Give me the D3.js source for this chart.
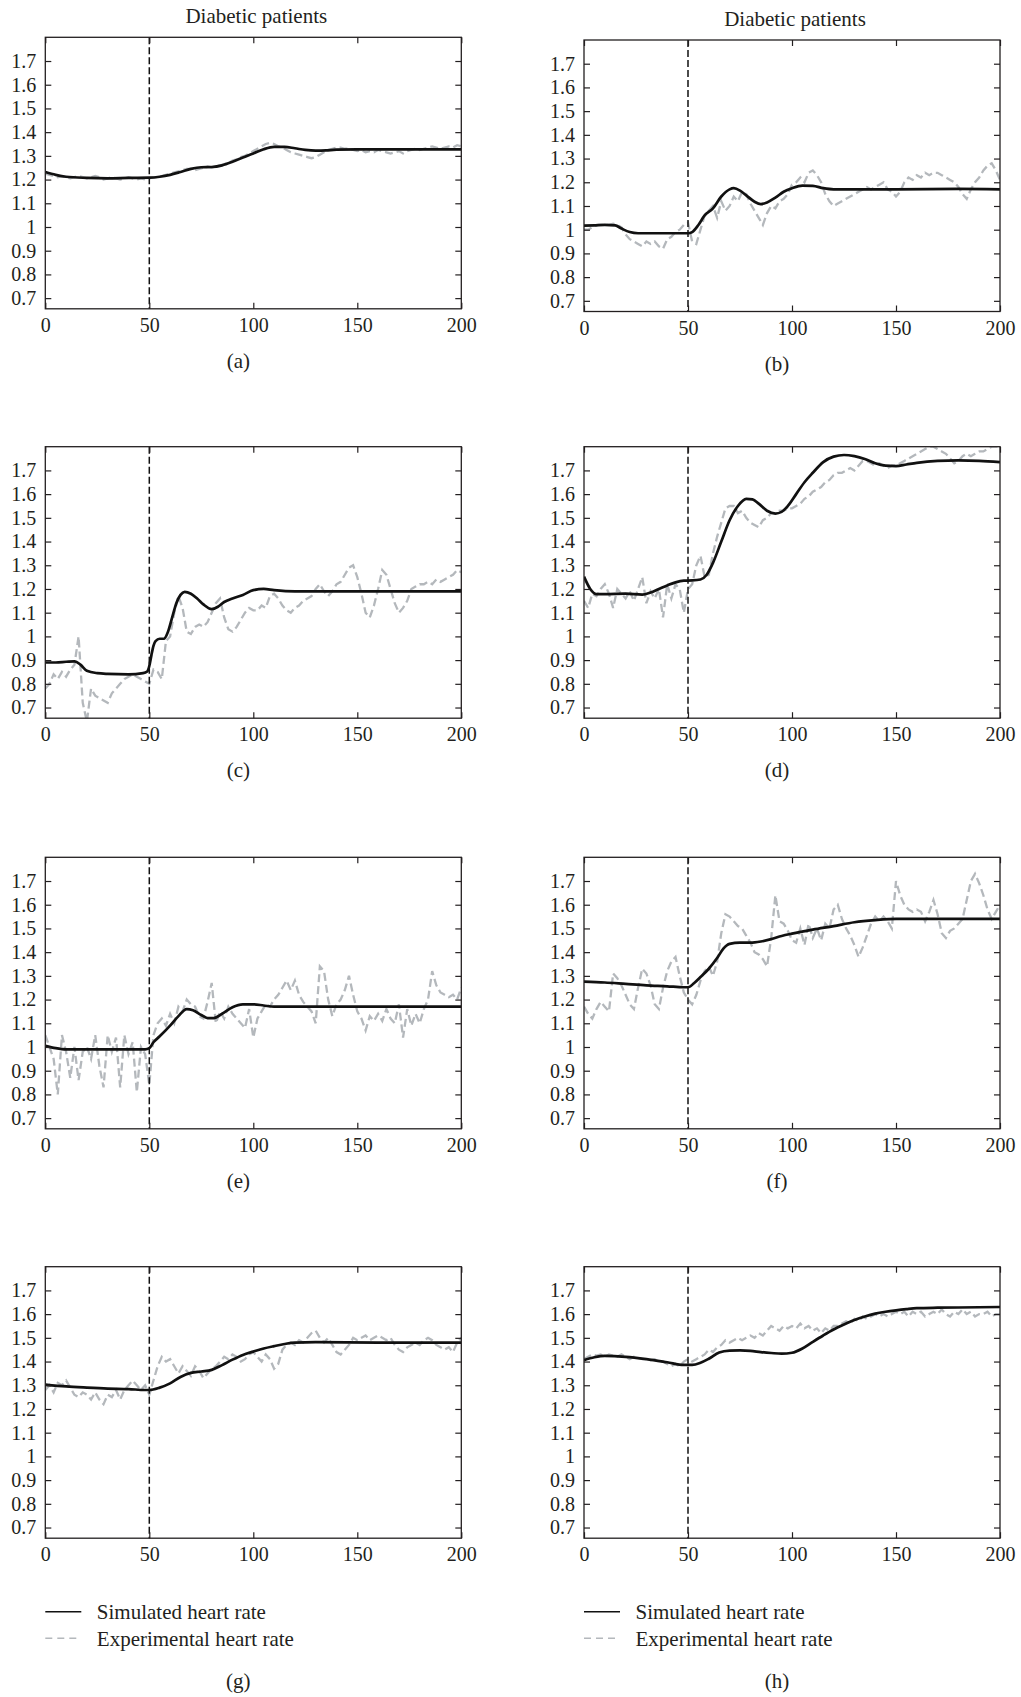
<!DOCTYPE html>
<html>
<head>
<meta charset="utf-8">
<script src="https://cdn.jsdelivr.net/npm/d3@7"></script>
<style>
  body { margin: 0; background: #fff; }
  svg text { font-family: "Liberation Serif", "Times New Roman", serif; fill: #231f20; }
</style>
</head>
<body>
<svg id="chart" width="1021" height="1697"></svg>
<script>
// axis ticks
const xTicks = [0, 50, 100, 150, 200];
const yTicks = [0.7, 0.8, 0.9, 1, 1.1, 1.2, 1.3, 1.4, 1.5, 1.6, 1.7];
const stimulusTime = 50;
const columnTitle = "Diabetic patients";
const legendLabels = ["Simulated heart rate", "Experimental heart rate"];

// experimental samples are every 2 time units, 0..200
const timeGrid = d3.range(0, 201, 2);

// simulated heart rate, [time, value]
const simA = [[0,1.232],[5,1.22],[10,1.212],[20,1.207],[30,1.205],[40,1.207],[50,1.208],[55,1.212],[60,1.22],[65,1.232],[70,1.245],[75,1.252],[80,1.253],[85,1.26],[90,1.275],[95,1.293],[100,1.31],[105,1.328],[110,1.338],[115,1.338],[120,1.332],[125,1.325],[130,1.322],[135,1.323],[140,1.326],[150,1.327],[170,1.327],[200,1.327]];
const simB = [[0,1.017],[5,1.018],[10,1.02],[15,1.018],[18,1.005],[22,0.99],[26,0.985],[35,0.985],[45,0.985],[50,0.985],[52,0.99],[55,1.02],[58,1.06],[62,1.09],[66,1.14],[70,1.17],[72,1.175],[75,1.165],[78,1.145],[82,1.118],[85,1.108],[88,1.115],[92,1.135],[96,1.16],[100,1.175],[105,1.186],[110,1.185],[115,1.175],[120,1.17],[150,1.17],[180,1.172],[200,1.17]];
const simC = [[0,0.89],[5,0.89],[10,0.893],[14,0.895],[17,0.88],[20,0.855],[25,0.845],[30,0.842],[40,0.84],[47,0.845],[49,0.852],[50,0.875],[51,0.92],[52,0.96],[53,0.98],[55,0.99],[57,0.99],[59,1.02],[61,1.08],[63,1.14],[65,1.175],[67,1.188],[70,1.18],[73,1.16],[76,1.135],[80,1.115],[83,1.125],[86,1.145],[90,1.16],[95,1.175],[100,1.195],[105,1.2],[110,1.195],[120,1.19],[150,1.19],[200,1.19]];
const simD = [[0,1.252],[3,1.2],[6,1.178],[10,1.178],[20,1.18],[28,1.176],[32,1.185],[36,1.2],[40,1.215],[44,1.228],[48,1.235],[52,1.236],[56,1.24],[59,1.26],[62,1.31],[66,1.4],[70,1.49],[74,1.55],[78,1.58],[81,1.578],[84,1.56],[88,1.53],[92,1.518],[95,1.525],[98,1.55],[102,1.6],[106,1.65],[110,1.69],[115,1.735],[120,1.758],[125,1.765],[130,1.76],[135,1.748],[140,1.73],[145,1.72],[150,1.718],[155,1.725],[160,1.732],[170,1.74],[180,1.742],[190,1.74],[200,1.735]];
const simE = [[0,1.005],[5,0.995],[10,0.99],[20,0.99],[30,0.99],[40,0.99],[48,0.99],[50,0.995],[52,1.02],[55,1.045],[60,1.09],[64,1.13],[68,1.16],[71,1.155],[75,1.135],[78,1.122],[81,1.122],[85,1.14],[90,1.168],[95,1.18],[100,1.18],[105,1.175],[110,1.17],[150,1.17],[200,1.17]];
const simF = [[0,1.276],[10,1.272],[20,1.266],[30,1.26],[40,1.256],[48,1.252],[50,1.252],[53,1.27],[56,1.295],[60,1.33],[64,1.375],[67,1.415],[70,1.435],[75,1.44],[80,1.44],[85,1.445],[90,1.455],[95,1.468],[100,1.478],[110,1.495],[120,1.51],[130,1.526],[140,1.535],[150,1.54],[170,1.54],[200,1.54]];
const simG = [[0,1.303],[10,1.295],[20,1.29],[30,1.286],[40,1.284],[48,1.28],[50,1.28],[55,1.29],[60,1.308],[65,1.335],[70,1.352],[75,1.358],[80,1.365],[85,1.385],[90,1.408],[95,1.428],[100,1.442],[105,1.455],[110,1.465],[115,1.474],[120,1.48],[130,1.482],[160,1.48],[200,1.48]];
const simH = [[0,1.406],[5,1.418],[10,1.424],[20,1.42],[30,1.41],[40,1.397],[48,1.386],[52,1.386],[56,1.395],[60,1.412],[65,1.438],[70,1.446],[75,1.447],[80,1.445],[85,1.44],[90,1.436],[95,1.433],[100,1.437],[105,1.455],[110,1.483],[115,1.51],[120,1.535],[125,1.556],[130,1.575],[135,1.59],[140,1.602],[145,1.61],[150,1.616],[155,1.621],[160,1.625],[170,1.627],[180,1.628],[200,1.63]];

// experimental heart rate, one value per timeGrid entry
const expA = [
  1.225,1.22,1.215,1.21,1.215,1.21,1.205,1.21,1.215,1.21,
  1.205,1.21,1.215,1.21,1.2,1.205,1.21,1.205,1.2,1.205,
  1.21,1.205,1.2,1.205,1.2,1.205,1.21,1.21,1.215,1.22,
  1.225,1.23,1.235,1.24,1.245,1.245,1.24,1.245,1.25,1.255,
  1.25,1.255,1.26,1.265,1.27,1.28,1.285,1.295,1.3,1.31,
  1.32,1.33,1.34,1.35,1.355,1.35,1.34,1.335,1.325,1.315,
  1.31,1.305,1.3,1.295,1.29,1.295,1.305,1.315,1.325,1.33,
  1.335,1.335,1.33,1.33,1.325,1.32,1.325,1.315,1.32,1.315,
  1.325,1.32,1.315,1.31,1.315,1.32,1.31,1.32,1.325,1.33,
  1.325,1.33,1.335,1.34,1.335,1.33,1.335,1.34,1.335,1.345,
  1.34];
const expB = [
  1.0,1.0,1.01,1.02,1.02,1.02,1.02,1.025,1.02,1.01,
  0.98,0.96,0.95,0.94,0.93,0.95,0.94,0.95,0.93,0.92,
  0.96,0.97,0.99,1.0,1.02,1.03,0.95,0.94,1.0,1.06,
  1.08,1.1,1.05,1.12,1.08,1.1,1.14,1.12,1.16,1.15,
  1.11,1.08,1.05,1.02,1.07,1.1,1.09,1.12,1.13,1.15,
  1.19,1.2,1.22,1.2,1.24,1.25,1.23,1.2,1.15,1.12,
  1.1,1.11,1.12,1.13,1.14,1.15,1.16,1.17,1.18,1.17,
  1.18,1.19,1.2,1.17,1.16,1.14,1.16,1.2,1.22,1.21,
  1.23,1.22,1.24,1.23,1.24,1.24,1.23,1.22,1.21,1.2,
  1.18,1.15,1.13,1.17,1.2,1.22,1.25,1.27,1.28,1.25,
  1.21];
const expC = [
  0.78,0.8,0.84,0.82,0.85,0.83,0.86,0.88,1.0,0.72,
  0.64,0.78,0.75,0.74,0.73,0.72,0.76,0.78,0.8,0.82,
  0.83,0.84,0.83,0.82,0.81,0.8,0.86,0.85,0.82,0.98,
  1.0,1.1,1.17,1.12,1.02,1.01,1.04,1.05,1.04,1.06,
  1.1,1.14,1.16,1.08,1.03,1.02,1.04,1.07,1.1,1.12,
  1.11,1.11,1.13,1.12,1.17,1.18,1.16,1.13,1.11,1.1,
  1.12,1.13,1.15,1.16,1.17,1.2,1.22,1.19,1.17,1.19,
  1.22,1.23,1.26,1.29,1.3,1.25,1.18,1.1,1.08,1.13,
  1.2,1.28,1.26,1.2,1.14,1.1,1.12,1.15,1.2,1.21,
  1.22,1.22,1.23,1.22,1.24,1.23,1.24,1.25,1.26,1.28,
  1.27];
const expD = [
  1.15,1.12,1.18,1.17,1.2,1.22,1.18,1.12,1.2,1.18,
  1.16,1.19,1.15,1.2,1.25,1.14,1.19,1.16,1.2,1.08,
  1.22,1.16,1.22,1.2,1.1,1.2,1.22,1.3,1.34,1.25,
  1.26,1.35,1.42,1.48,1.54,1.55,1.55,1.52,1.53,1.5,
  1.48,1.47,1.46,1.49,1.5,1.52,1.52,1.53,1.53,1.54,
  1.54,1.55,1.56,1.58,1.59,1.61,1.62,1.63,1.65,1.66,
  1.68,1.69,1.69,1.7,1.71,1.7,1.72,1.74,1.74,1.73,
  1.72,1.73,1.72,1.71,1.72,1.72,1.73,1.74,1.75,1.76,
  1.77,1.78,1.79,1.8,1.8,1.79,1.78,1.77,1.75,1.73,
  1.74,1.76,1.77,1.76,1.77,1.78,1.78,1.79,1.8,1.8,
  1.8];
const expE = [
  1.05,1.0,0.95,0.8,1.05,0.98,0.87,1.0,0.86,0.98,
  1.0,0.95,1.05,0.92,0.83,1.05,0.98,1.04,0.83,1.05,
  0.97,1.02,0.81,1.0,0.97,0.84,1.05,1.1,1.12,1.09,
  1.14,1.1,1.17,1.15,1.2,1.18,1.17,1.13,1.12,1.19,
  1.27,1.1,1.15,1.12,1.17,1.14,1.12,1.1,1.08,1.16,
  1.04,1.12,1.15,1.18,1.17,1.2,1.22,1.25,1.28,1.24,
  1.28,1.22,1.19,1.17,1.15,1.1,1.34,1.32,1.2,1.13,
  1.18,1.2,1.24,1.3,1.22,1.15,1.12,1.07,1.13,1.11,
  1.14,1.11,1.16,1.12,1.1,1.18,1.04,1.16,1.09,1.14,
  1.1,1.16,1.2,1.32,1.26,1.23,1.22,1.21,1.22,1.2,
  1.25];
const expF = [
  1.17,1.14,1.12,1.16,1.19,1.17,1.15,1.31,1.29,1.26,
  1.22,1.18,1.16,1.25,1.33,1.31,1.26,1.18,1.16,1.25,
  1.32,1.36,1.38,1.3,1.23,1.2,1.18,1.22,1.28,1.32,
  1.34,1.3,1.36,1.48,1.56,1.55,1.53,1.51,1.5,1.47,
  1.44,1.4,1.39,1.37,1.34,1.46,1.64,1.53,1.52,1.49,
  1.45,1.44,1.5,1.43,1.52,1.46,1.5,1.45,1.52,1.5,
  1.58,1.6,1.54,1.5,1.47,1.43,1.38,1.42,1.47,1.52,
  1.55,1.53,1.55,1.53,1.5,1.7,1.64,1.6,1.58,1.57,
  1.58,1.57,1.53,1.57,1.62,1.56,1.48,1.46,1.49,1.5,
  1.52,1.54,1.62,1.7,1.73,1.69,1.64,1.58,1.54,1.57,
  1.6];
const expG = [
  1.28,1.3,1.27,1.31,1.3,1.32,1.29,1.26,1.25,1.27,
  1.26,1.24,1.27,1.24,1.22,1.26,1.25,1.28,1.24,1.28,
  1.3,1.32,1.3,1.28,1.3,1.26,1.32,1.38,1.42,1.4,
  1.41,1.38,1.35,1.38,1.36,1.34,1.38,1.36,1.33,1.35,
  1.37,1.38,1.4,1.42,1.41,1.43,1.42,1.4,1.41,1.43,
  1.44,1.42,1.4,1.43,1.41,1.37,1.39,1.45,1.47,1.48,
  1.47,1.49,1.48,1.5,1.52,1.53,1.5,1.48,1.5,1.47,
  1.44,1.43,1.45,1.47,1.5,1.49,1.5,1.51,1.49,1.5,
  1.51,1.5,1.49,1.5,1.47,1.45,1.44,1.46,1.47,1.48,
  1.47,1.49,1.5,1.49,1.47,1.46,1.45,1.46,1.44,1.48,
  1.5];
const expH = [
  1.41,1.42,1.43,1.425,1.43,1.42,1.43,1.425,1.42,1.43,
  1.42,1.41,1.42,1.415,1.41,1.41,1.405,1.41,1.4,1.4,
  1.39,1.38,1.39,1.38,1.4,1.41,1.4,1.41,1.42,1.43,
  1.45,1.44,1.46,1.47,1.49,1.48,1.49,1.5,1.49,1.5,
  1.51,1.5,1.52,1.51,1.53,1.55,1.54,1.53,1.55,1.54,
  1.55,1.54,1.56,1.54,1.55,1.53,1.54,1.52,1.54,1.53,
  1.55,1.55,1.56,1.57,1.56,1.58,1.57,1.59,1.58,1.59,
  1.6,1.59,1.6,1.59,1.6,1.61,1.6,1.61,1.59,1.61,
  1.6,1.61,1.59,1.6,1.61,1.6,1.62,1.6,1.59,1.61,
  1.6,1.62,1.6,1.61,1.59,1.6,1.6,1.61,1.59,1.6,
  1.6];

// panel placement on the page
const panels = [
  { label: "(a)", sim: simA, exp: expA, left: 45.3, top: 37.3, title: true },
  { label: "(b)", sim: simB, exp: expB, left: 584, top: 40, title: true },
  { label: "(c)", sim: simC, exp: expC, left: 45.3, top: 446.7 },
  { label: "(d)", sim: simD, exp: expD, left: 584, top: 446.7 },
  { label: "(e)", sim: simE, exp: expE, left: 45.3, top: 857.3 },
  { label: "(f)", sim: simF, exp: expF, left: 584, top: 857.3 },
  { label: "(g)", sim: simG, exp: expG, left: 45.3, top: 1266.7, legend: true },
  { label: "(h)", sim: simH, exp: expH, left: 584, top: 1266.7, legend: true },
];

const width = 416;
const height = 271.5;
const ink = "#231f20";
const expColor = "#b4b8bc";

const x = d3.scaleLinear().domain([0, 200]).range([0, width]);
const y = d3.scaleLinear().domain([0.655, 1.8]).range([height, 0]);

const simLine = d3.line()
  .x((d) => x(d[0]))
  .y((d) => y(d[1]))
  .curve(d3.curveMonotoneX);

const expLine = d3.line()
  .x((d, i) => x(timeGrid[i]))
  .y((d) => y(d));

const svg = d3.select("#chart");

panels.forEach((p, idx) => {
  const g = svg.append("g").attr("transform", `translate(${p.left},${p.top})`);

  // keep the curves inside the frame
  const clipId = `clip-${idx}`;
  g.append("clipPath").attr("id", clipId)
    .append("rect").attr("width", width).attr("height", height);

  const plot = g.append("g").attr("clip-path", `url(#${clipId})`);

  plot.append("path")
    .attr("d", expLine(p.exp))
    .attr("fill", "none")
    .attr("stroke", expColor)
    .attr("stroke-width", 2.3)
    .attr("stroke-dasharray", "8,4");

  plot.append("path")
    .attr("d", simLine(p.sim))
    .attr("fill", "none")
    .attr("stroke", "#111")
    .attr("stroke-width", 2.7);

  // stimulus onset
  g.append("line")
    .attr("x1", x(stimulusTime)).attr("x2", x(stimulusTime))
    .attr("y1", 0).attr("y2", height)
    .attr("stroke", "#111")
    .attr("stroke-width", 1.5)
    .attr("stroke-dasharray", "7,3");

  g.append("rect")
    .attr("width", width).attr("height", height)
    .attr("fill", "none")
    .attr("stroke", ink)
    .attr("stroke-width", 1.3);

  // ticks point inward on all four sides, labels only left and bottom
  const styleAxis = (sel) => {
    sel.select(".domain").remove();
    sel.attr("font-family", null).attr("font-size", 20).attr("color", ink);
    sel.selectAll(".tick line").attr("stroke-width", 1.2);
  };

  g.append("g")
    .call(d3.axisLeft(y).tickValues(yTicks).tickFormat((d) => String(d)).tickSize(-6).tickPadding(9))
    .call(styleAxis);

  g.append("g")
    .attr("transform", `translate(${width},0)`)
    .call(d3.axisRight(y).tickValues(yTicks).tickFormat("").tickSize(-6))
    .call(styleAxis);

  g.append("g")
    .attr("transform", `translate(0,${height})`)
    .call(d3.axisBottom(x).tickValues(xTicks).tickFormat((d) => String(d)).tickSize(-6).tickPadding(9))
    .call(styleAxis);

  g.append("g")
    .call(d3.axisTop(x).tickValues(xTicks).tickFormat("").tickSize(-6))
    .call(styleAxis);

  if (p.title) {
    g.append("text")
      .attr("x", width / 2 + 3)
      .attr("y", -14.5)
      .attr("text-anchor", "middle")
      .attr("font-size", 21)
      .text(columnTitle);
  }

  if (p.legend) {
    const lg = g.append("g").attr("transform", `translate(0,${height + 73.5})`);
    legendLabels.forEach((name, i) => {
      const row = lg.append("g").attr("transform", `translate(0,${i * 26.5})`);
      row.append("line")
        .attr("x1", 0).attr("x2", 36)
        .attr("stroke", i === 0 ? "#111" : expColor)
        .attr("stroke-width", 1.6)
        .attr("stroke-dasharray", i === 0 ? null : "7,5");
      row.append("text")
        .attr("x", 51.5)
        .attr("y", 7.5)
        .attr("font-size", 21)
        .text(name);
    });
  }

  g.append("text")
    .attr("x", width / 2 - 15)
    .attr("y", height + (p.legend ? 150 : 59))
    .attr("text-anchor", "middle")
    .attr("font-size", 21)
    .text(p.label);
});
</script>
</body>
</html>
